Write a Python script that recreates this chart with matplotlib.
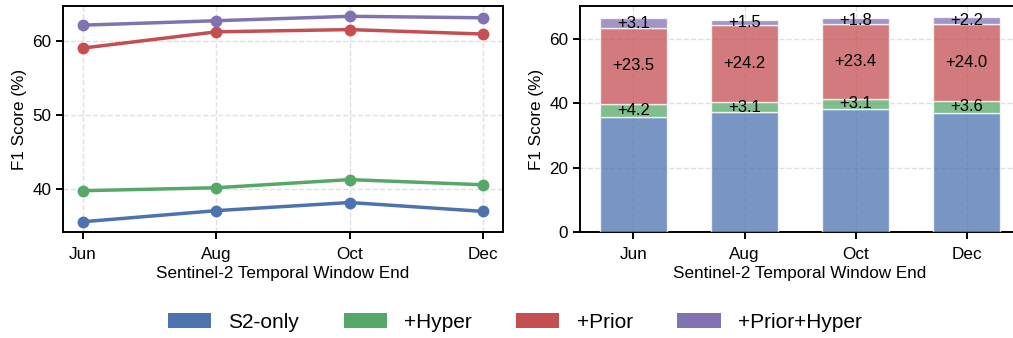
import matplotlib
matplotlib.use('Agg')
import matplotlib.pyplot as plt
import numpy as np
from matplotlib.patches import Patch

plt.rcParams['font.family'] = ['Liberation Sans', 'DejaVu Sans']

# data (F1 %)
months = ['Jun', 'Aug', 'Oct', 'Dec']
s2_only = [35.6, 37.1, 38.2, 37.0]
hyper = [39.8, 40.2, 41.3, 40.6]
prior = [59.1, 61.3, 61.6, 61.0]
prior_hyper = [62.2, 62.8, 63.4, 63.2]
series_names = ['S2-only', '+Hyper', '+Prior', '+Prior+Hyper']
colors = ['#4C72B0', '#55A868', '#C44E52', '#8172B2']

x = np.arange(len(months))
FS = 12.3

fig = plt.figure(figsize=(10.13, 3.38), dpi=100)
ax1 = fig.add_axes([0.0622, 0.3136, 0.4344, 0.6686])
ax2 = fig.add_axes([0.5726, 0.3136, 0.4344, 0.6686])

# 左图: 折线
for vals, c in zip([s2_only, hyper, prior, prior_hyper], colors):
    ax1.plot(x, vals, '-o', color=c, lw=2.5, ms=7.5, zorder=3)

# 右图: 堆叠增益
s2 = np.array(s2_only)
g_hyper = np.array(hyper) - s2
g_prior = np.array(prior) - s2
g_both = np.array(prior_hyper) - np.array(prior)
bottom = np.zeros(len(x))
for i, (h, c) in enumerate(zip([s2, g_hyper, g_prior, g_both], colors)):
    ax2.bar(x, h, 0.6, bottom=bottom, color=c, alpha=0.75,
            edgecolor='white', linewidth=1, zorder=3)
    if i > 0:
        for xi, b, v in zip(x, bottom, h):
            ax2.text(xi, b + v / 2, f'+{v:.1f}', ha='center', va='center',
                     fontsize=12, zorder=4)
    bottom = bottom + h

for ax in (ax1, ax2):
    ax.set_xticks(x)
    ax.set_xticklabels(months)
    ax.set_xlabel('Sentinel-2 Temporal Window End', fontsize=FS, labelpad=2.5)
    ax.set_ylabel('F1 Score (%)', fontsize=FS)
    ax.tick_params(labelsize=FS, width=1.4, length=5)
    ax.tick_params(axis='x', pad=6)
    ax.grid(True, ls='--', color='#e0e0e0', lw=1, zorder=0)
    ax.set_axisbelow(True)
    for s in ax.spines.values():
        s.set_linewidth(1.4)

ax1.set_yticks([40, 50, 60])
ax2.set_yticks([0, 20, 40, 60])

handles = [Patch(facecolor=c) for c in colors]
fig.legend(handles, series_names, loc='center', bbox_to_anchor=(0.508, 0.046),
           ncol=4, frameon=False, fontsize=15, handlelength=2.07,
           handleheight=0.72, handletextpad=0.82, columnspacing=2.15)

fig.savefig('out.png', dpi=100)
